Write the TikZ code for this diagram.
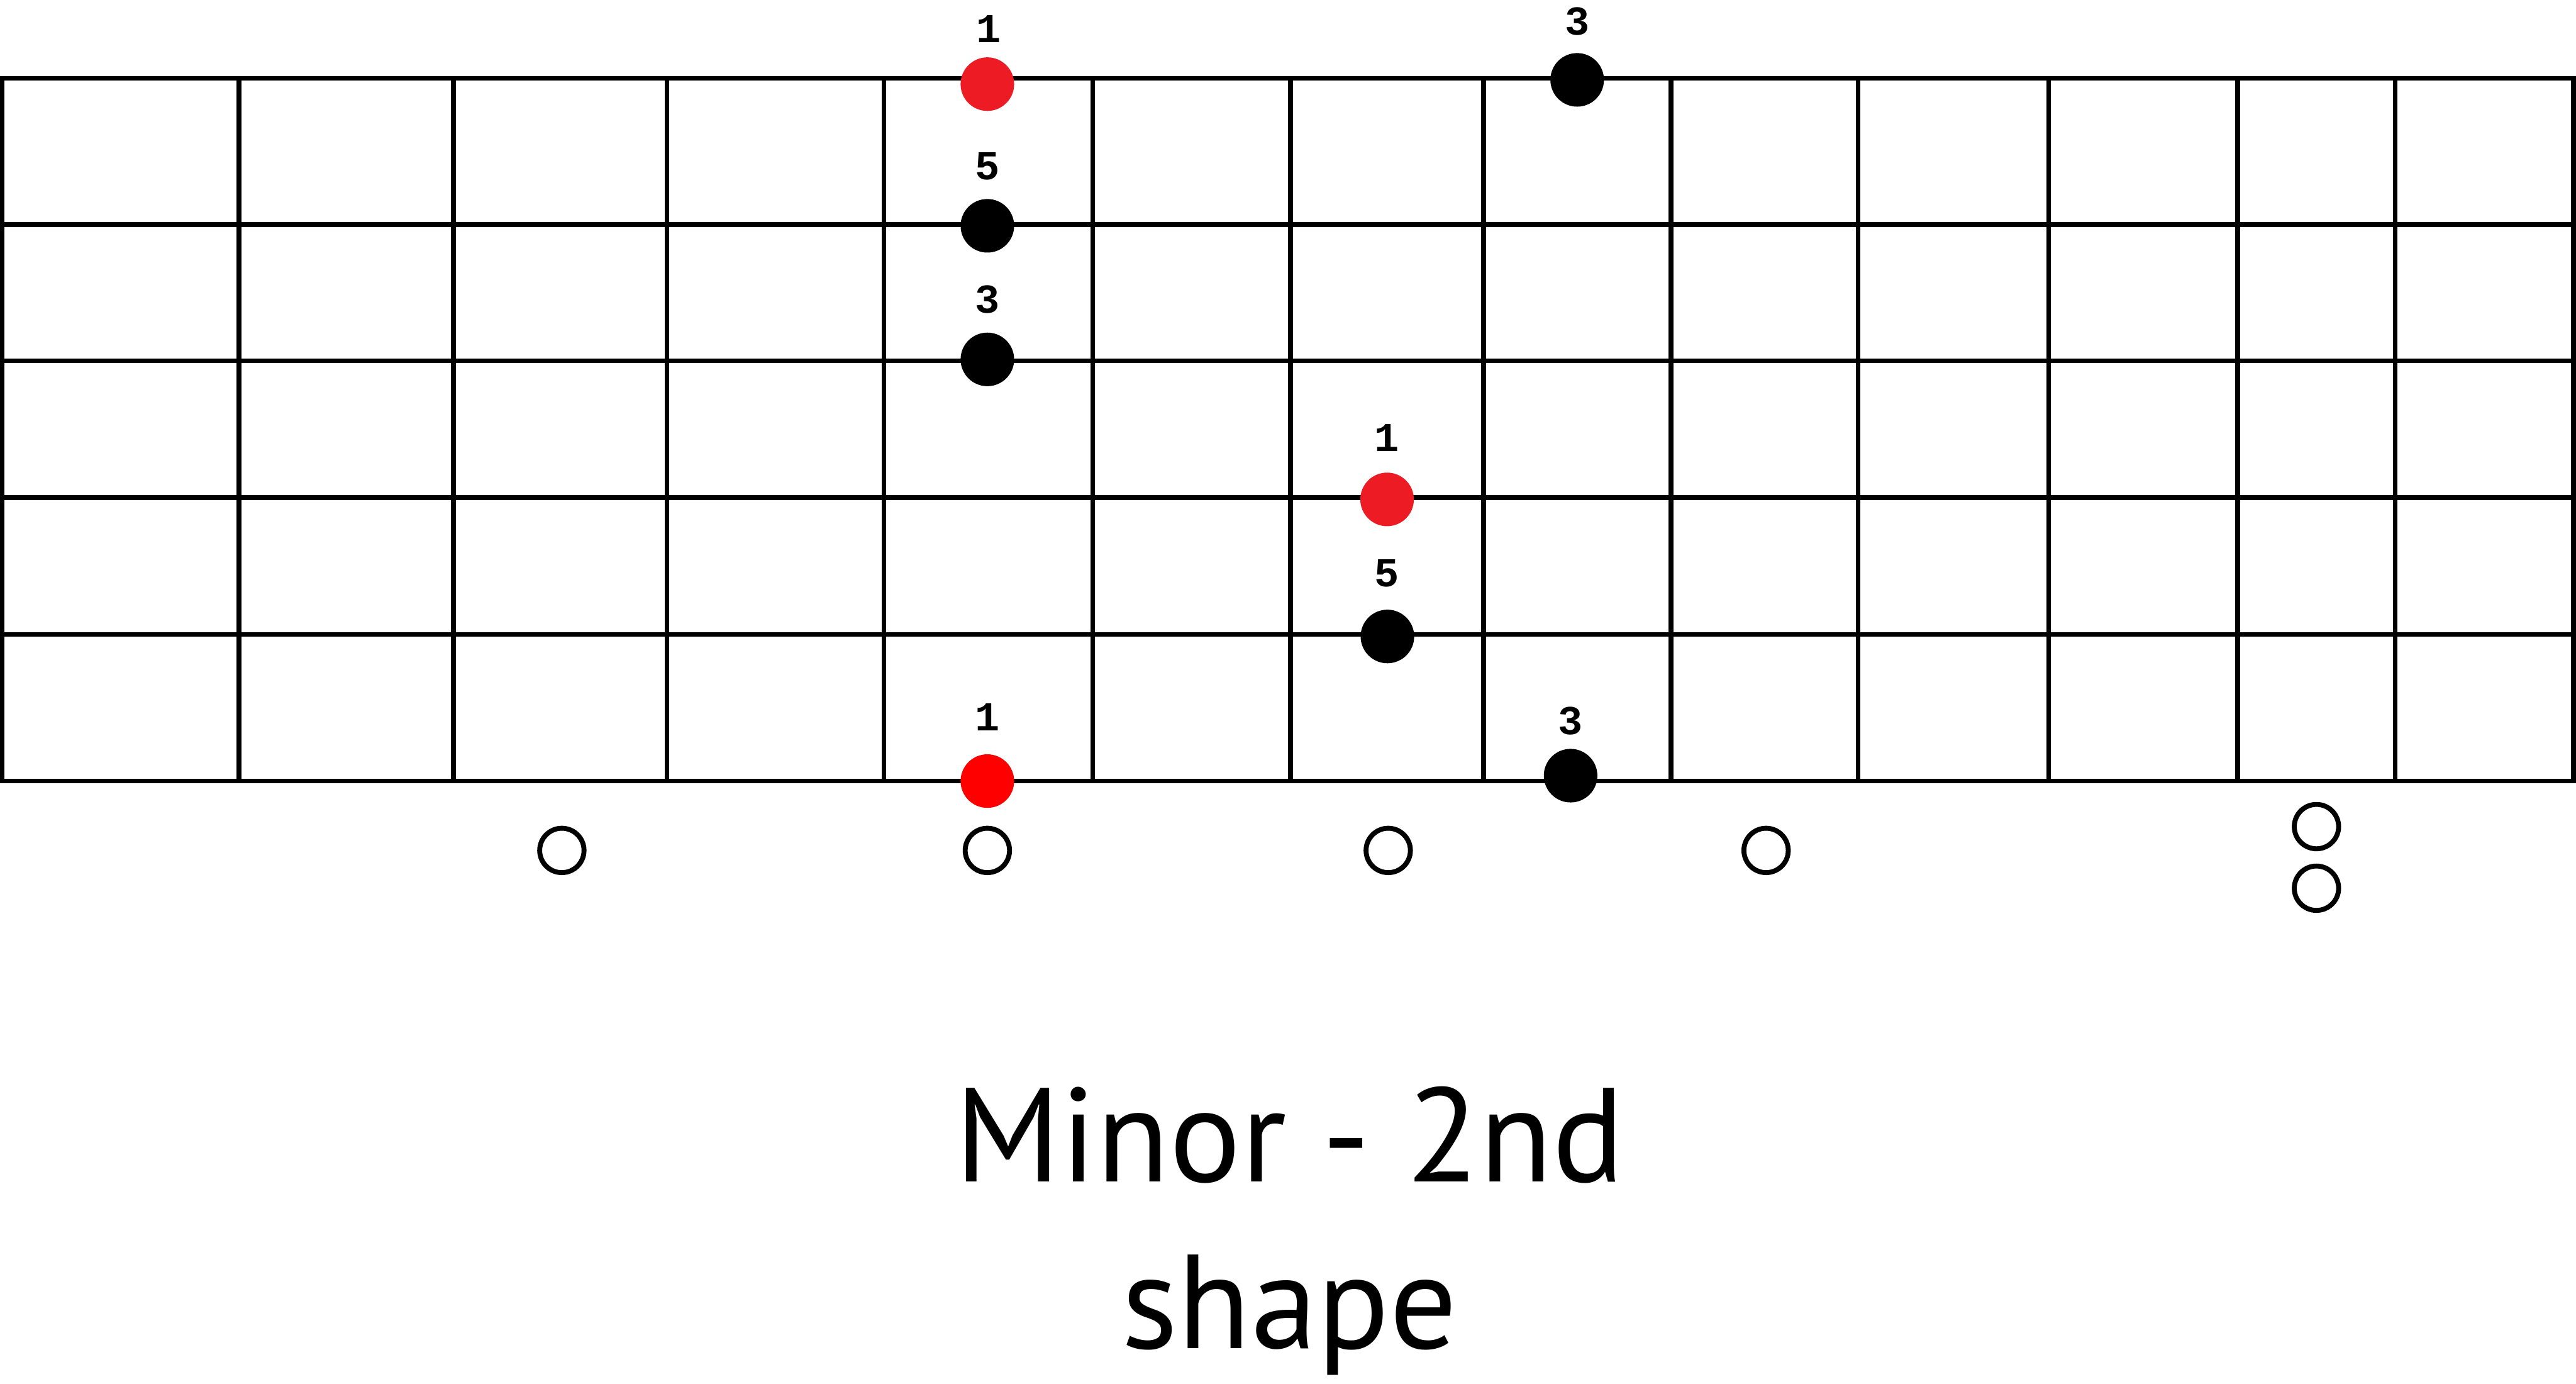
\documentclass[tikz,border=0pt]{standalone}
\usepackage{fontspec}
\setmainfont{PT Sans}
\newfontfamily\lblfont{Liberation Mono}
\definecolor{rootred}{HTML}{ED1C24}
\definecolor{purered}{HTML}{FF0000}
\begin{document}
\begin{tikzpicture}[x=1pt,y=-1pt,
  gridline/.style={line width=2.9pt, line cap=rect, black},
  dot/.style={circle, fill=black, inner sep=0pt, minimum size=32.6pt},
  rootdot/.style={dot, fill=rootred},
  opendot/.style={circle, draw=black, line width=3pt, fill=white, inner sep=0pt, minimum size=27pt},
  lbl/.style={font=\lblfont\bfseries\fontsize{25}{25}\selectfont, inner sep=0pt},
  title/.style={font=\fontsize{81.4}{90}\selectfont, inner sep=0pt, anchor=base}]
\useasboundingbox (0,0) rectangle (1568,842);
% strings
\foreach \y in {47.7,136.7,219.6,302.9,386,475.2}
  \draw[gridline] (1.4,\y) -- (1566.5,\y);
% frets
\foreach \x in {1.4,145.5,276,406,538,665.1,785.6,903,1017.1,1131,1247,1362,1458,1566.5}
  \draw[gridline] (\x,47.7) -- (\x,475.2);
% notes
\node[rootdot] (r1) at (601,51.2) {};
\node[dot] (d3a) at (960,48.6) {};
\node[dot] (d5a) at (601,137.4) {};
\node[dot] (d3b) at (601,218.7) {};
\node[rootdot] (r2) at (844.3,303.9) {};
\node[dot] (d5b) at (844.5,387.3) {};
\node[dot, fill=purered] (r3) at (601,475.3) {};
\node[dot] (d3c) at (956,472) {};
% labels
\node[lbl] (l1) at (601.8,17.8) {1};
\node[lbl] (l2) at (960,13) {3};
\node[lbl] (l3) at (601,101.2) {5};
\node[lbl] (l4) at (601,182.2) {3};
\node[lbl] (l5) at (844.3,266.5) {1};
\node[lbl] (l6) at (844.3,349) {5};
\node[lbl] (l7) at (601,436.3) {1};
\node[lbl] (l8) at (956,438.7) {3};
% position markers
\node[opendot] (m1) at (342,517.5) {};
\node[opendot] (m2) at (601,517.5) {};
\node[opendot] (m3) at (845,517.5) {};
\node[opendot] (m4) at (1075,517.5) {};
\node[opendot] (m5) at (1410,503) {};
\node[opendot] (m6) at (1410,540.5) {};
% title
\node[title] (t1) at (785,719) {Minor - 2nd};
\node[title] (t2) at (785,820.6) {shape};
\end{tikzpicture}
\end{document}
